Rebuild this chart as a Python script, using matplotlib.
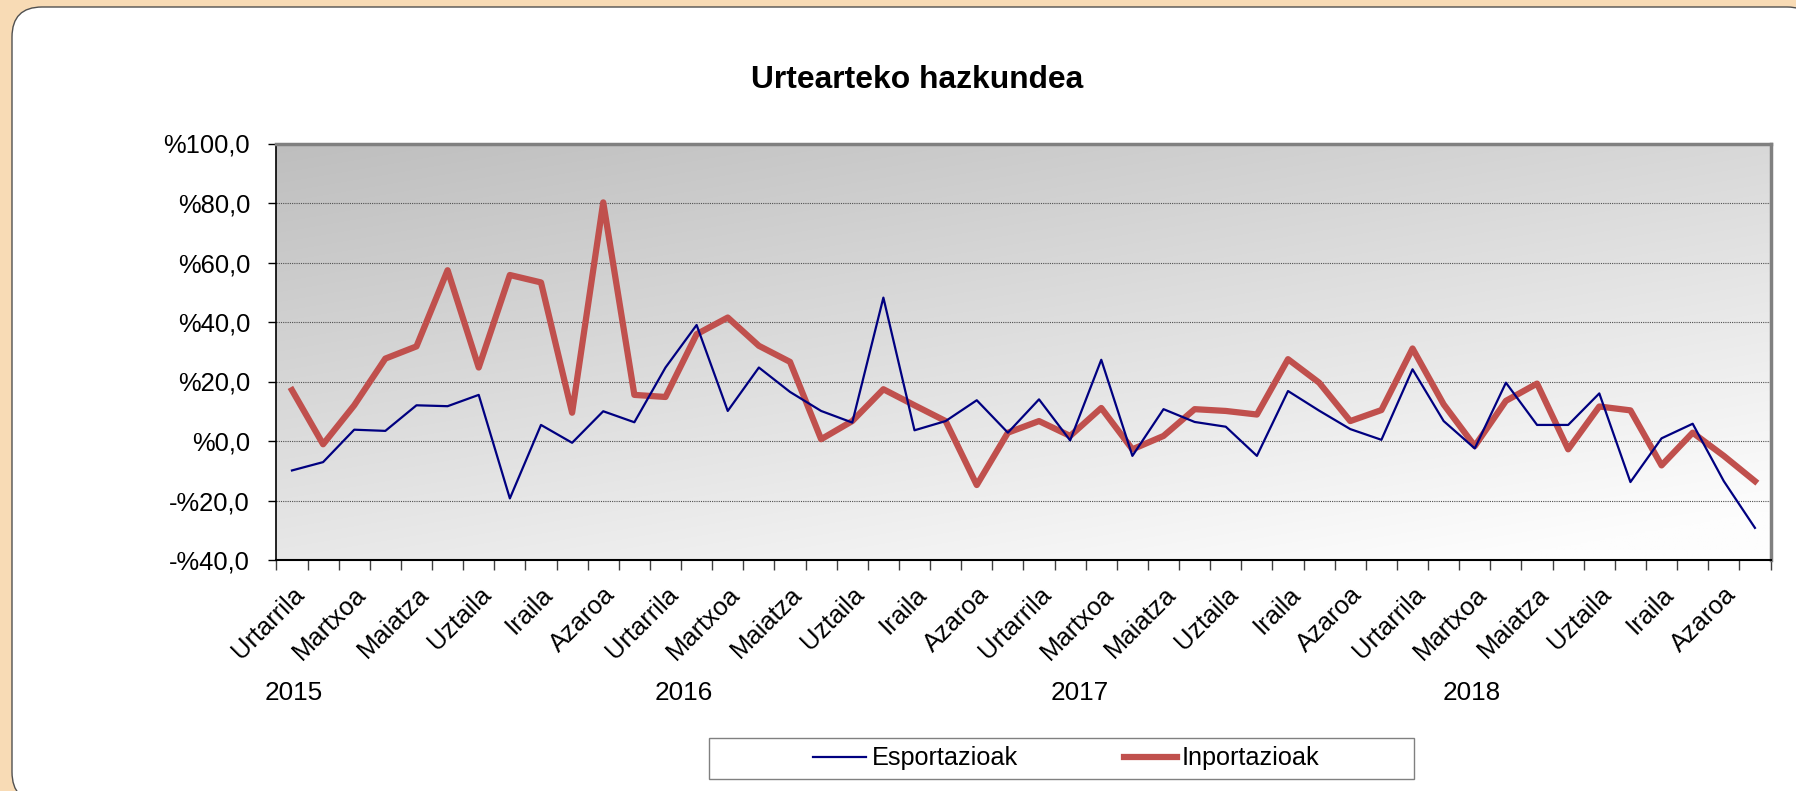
import numpy as np
import matplotlib.pyplot as plt
from matplotlib.patches import FancyBboxPatch, Rectangle
from matplotlib.transforms import IdentityTransform, blended_transform_factory
from matplotlib.ticker import FuncFormatter

plt.rcParams['font.family'] = ['Liberation Sans', 'DejaVu Sans']

months = ['Urtarrila', 'Martxoa', 'Maiatza', 'Uztaila', 'Iraila', 'Azaroa']
years = ['2015', '2016', '2017', '2018']

# urtearteko hazkundea (%), hilabetez hilabete 2015-01 .. 2018-12
esportazioak = [-9.9, -7.1, 3.8, 3.4, 12.0, 11.7, 15.5, -19.3, 5.4, -0.6, 10.0, 6.3,
                24.7, 39.0, 10.1, 24.7, 16.5, 10.1, 6.2, 48.2, 3.6, 6.7, 13.7, 2.8,
                14.0, 0.2, 27.3, -5.0, 10.7, 6.4, 4.8, -5.0, 16.8, 10.2, 4.0, 0.4,
                24.1, 6.7, -2.5, 19.6, 5.4, 5.4, 16.0, -13.8, 0.9, 5.8, -13.5, -29.2]
inportazioak = [17.1, -1.1, 12.0, 27.7, 31.8, 57.4, 24.7, 55.8, 53.3, 9.5, 80.2, 15.5,
                14.8, 35.9, 41.5, 32.0, 26.6, 0.6, 6.7, 17.4, 12.0, 6.7, -14.8, 2.8,
                6.7, 1.7, 11.1, -2.8, 1.7, 10.7, 10.1, 8.9, 27.5, 19.6, 6.7, 10.4,
                31.1, 12.3, -1.7, 13.5, 19.3, -2.8, 11.6, 10.3, -8.2, 2.8, -5.0, -13.5]

W, H = 1796, 791
fig = plt.figure(figsize=(W / 100, H / 100), dpi=100)
fig.patch.set_facecolor('#F8DBB5')

# white card with rounded corners
card = FancyBboxPatch((12, -11), 1805, 795, boxstyle='round,pad=0,rounding_size=30',
                      transform=IdentityTransform(), fc='white', ec='#505050', lw=1, zorder=-10)
fig.add_artist(card)

ax = fig.add_axes([276.4 / W, (H - 560) / H, (1770.5 - 276.4) / W, (560 - 143.5) / H])
ax.patch.set_visible(False)

# grey gradient background of the plot area
gx, gy = np.meshgrid(np.linspace(0, 1, 256), np.linspace(0, 1, 256))
shade = np.clip(190 + 26 * gx + 42 * gy, 0, 253) / 255
ax.imshow(np.dstack([shade] * 3), extent=(0, 1, 0, 1), transform=ax.transAxes,
          aspect='auto', zorder=0, interpolation='bilinear')

n = len(esportazioak)
x = np.arange(n) + 0.5
red, = ax.plot(x, inportazioak, color='#C0504D', lw=4.5, zorder=2, label='Inportazioak')
blue, = ax.plot(x, esportazioak, color='#000080', lw=1.6, zorder=3, label='Esportazioak')

ax.set_xlim(0, n)
ax.set_ylim(-40, 100)
ax.set_yticks(range(-40, 101, 20))
ax.yaxis.set_major_formatter(FuncFormatter(
    lambda v, p: ('-' if v < 0 else '') + '%' + f'{abs(v):.1f}'.replace('.', ',')))
ax.yaxis.grid(True, color='#505050', linestyle=(0, (1, 1)), linewidth=0.8)
ax.tick_params(axis='y', direction='out', length=6, width=1, color='black', pad=13, labelsize=18.4)

ax.set_xticks(np.arange(n + 1))
ax.set_xticklabels([])
ax.tick_params(axis='x', which='major', direction='out', length=7, width=1, color='#404040')
ax.set_xticks(np.arange(0, n, 2) + 0.5, months * len(years), minor=True)
ax.tick_params(axis='x', which='minor', length=0, pad=16, labelsize=18.4)
for lab in ax.get_xticklabels(minor=True):
    lab.set_rotation(45)
    lab.set_ha('right')
    lab.set_va('top')
    lab.set_rotation_mode('anchor')

for side in ['top', 'right']:
    ax.spines[side].set_color('#808080')
    ax.spines[side].set_linewidth(2.5)
ax.spines['left'].set_linewidth(1.2)
ax.spines['bottom'].set_linewidth(1.5)

# year labels under the month labels
trans = blended_transform_factory(ax.transData, ax.transAxes)
for xpos, yr in zip([0.56, 13.1, 25.8, 38.4], years):
    ax.text(xpos, -0.319, yr, transform=trans, ha='center', va='center', fontsize=18.8)

fig.text(917 / W, 1 - 80 / H, 'Urtearteko hazkundea', ha='center', va='center',
         fontsize=22.9, fontweight='bold')

# legend box
fig.add_artist(Rectangle((709, H - 779), 705, 41, transform=IdentityTransform(),
                         fc='white', ec='#808080', lw=1, zorder=1))
leg = fig.legend(handles=[blue, red], loc='center', bbox_to_anchor=(1066.5 / W, 1 - 758.5 / H),
                 ncol=2, frameon=False, fontsize=18.2, handlelength=2.1, handletextpad=0.2,
                 columnspacing=4.2)
leg.set_zorder(2)

fig.savefig('out.png', dpi=100, facecolor=fig.get_facecolor())
